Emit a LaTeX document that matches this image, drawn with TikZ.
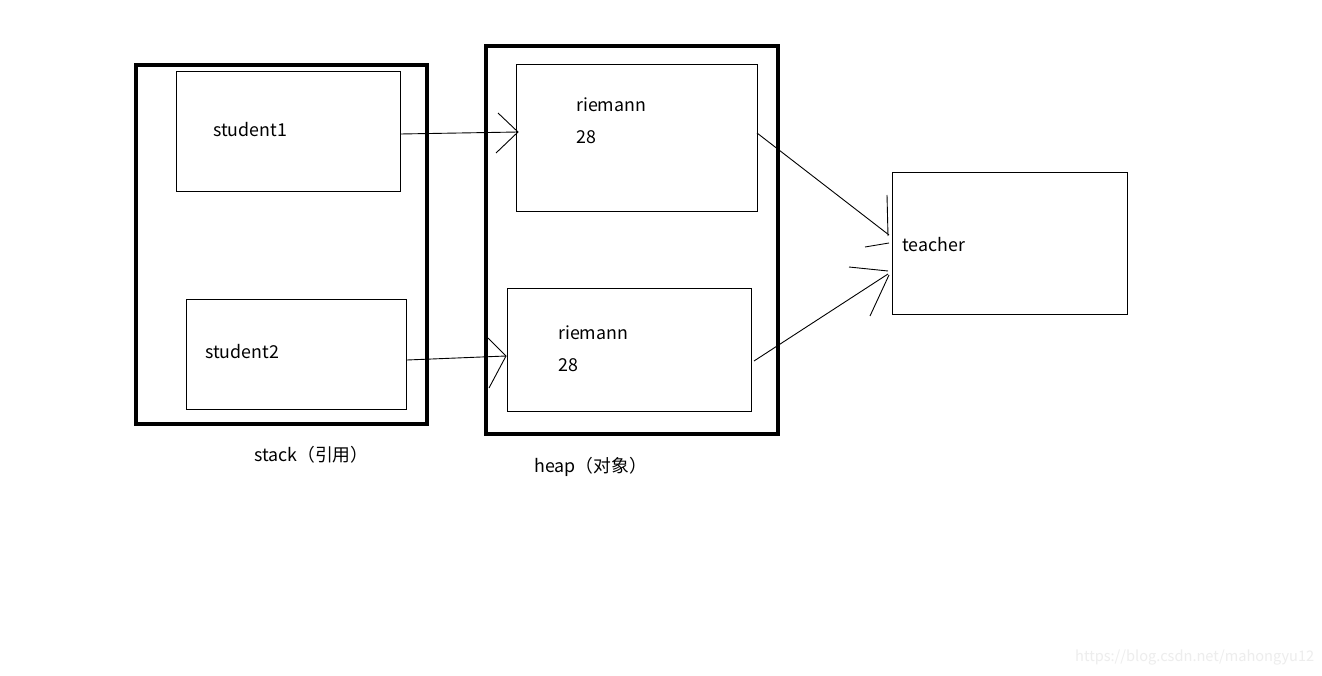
\documentclass[tikz,border=0pt]{standalone}
\usepackage{fontspec}
\setmainfont{Noto Sans CJK SC}
\begin{document}
\begin{tikzpicture}[x=1pt,y=-1pt,
  thin box/.style={draw=black,line width=1pt},
  thick box/.style={draw=black,line width=4pt},
  txt/.style={font=\fontsize{17.8}{20}\selectfont,anchor=west,inner sep=0pt},
  link/.style={draw=black,line width=0.9pt}]
\useasboundingbox[fill=white] (0,0) rectangle (1322,676);
% outer containers
\draw[thick box] (136,65) rectangle (427,424);
\draw[thick box] (486,46) rectangle (778,434);
% inner boxes
\node[thin box,minimum width=224pt,minimum height=120pt,inner sep=0pt] (s1) at (288,132) {};
\node[thin box,minimum width=220pt,minimum height=110pt,inner sep=0pt] (s2) at (296,354) {};
\node[thin box,minimum width=241pt,minimum height=147pt,inner sep=0pt] (h1) at (636.5,138.5) {};
\node[thin box,minimum width=244pt,minimum height=122pt,inner sep=0pt] (h2) at (629,350) {};
\node[thin box,minimum width=235pt,minimum height=141pt,inner sep=0pt] (t) at (1009.5,243.5) {};
% texts
\node[txt] (s1t) at (213,130) {student1};
\node[txt] (s2t) at (205,352) {student2};
\node[txt] (h1a) at (576,105) {riemann};
\node[txt] (h1b) at (576,137) {28};
\node[txt] (h2a) at (558,333) {riemann};
\node[txt] (h2b) at (558,365) {28};
\node[txt] (tt) at (902,245) {teacher};
\node[txt] (stk) at (254,455) {stack（引用）};
\node[txt] (hp) at (534,467) {heap（对象）};
\node[txt,text=black!7,font=\fontsize{14.6}{16}\selectfont] (wm) at (1075,658) {https://blog.csdn.net/mahongyu12};
% connector end points
\coordinate (a1s) at (s1.east |- 0,134);
\coordinate (a1e) at (518,132);
\coordinate (a2s) at (407,360);
\coordinate (a2e) at (506,356);
\coordinate (a3s) at (757,133);
\coordinate (a3e) at (889,235);
\coordinate (a4s) at (754,361);
\coordinate (a4e) at (888,274);
% connectors
\draw[link] (a1s) -- (a1e);
\draw[link] (498,113) -- (a1e) -- (496,153);
\draw[link] (a2s) -- (a2e);
\draw[link] (488,338) -- (a2e) -- (489,388);
\draw[link] (a3s) -- (a3e);
\draw[link] (887,195) -- (888,236);
\draw[link] (865,247) -- (889,243);
\draw[link] (a4s) -- (a4e);
\draw[link] (849,267) -- (888,271);
\draw[link] (870,316) -- (889,275);
\end{tikzpicture}
\end{document}
